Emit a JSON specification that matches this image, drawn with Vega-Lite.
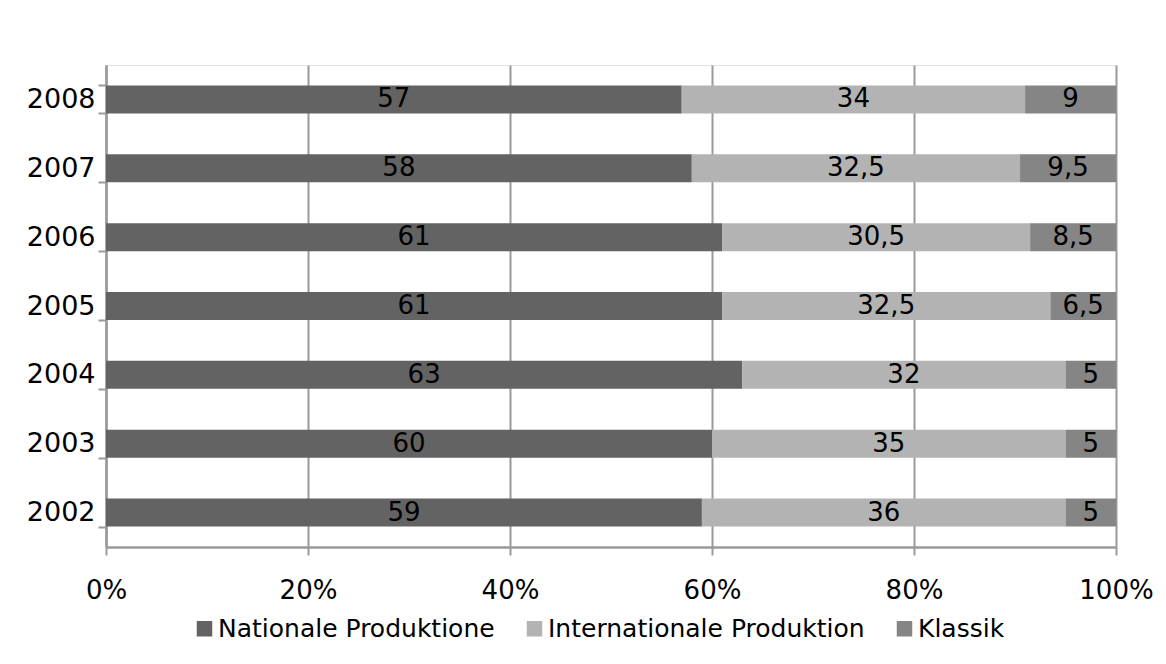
{
  "$schema": "https://vega.github.io/schema/vega-lite/v6.json",
  "width": 1010,
  "height": 482,
  "autosize": {"type": "none"},
  "padding": {"left": 106, "top": 65, "right": 50, "bottom": 117},
  "background": "white",
  "config": {
    "font": "DejaVu Sans",
    "locale": {
      "number": {"decimal": ",", "thousands": ".", "grouping": [3], "currency": ["", " €"]}
    },
    "view": {"stroke": "#e2e2e2", "strokeWidth": 1}
  },
  "data": {
    "values": [
      {"year": "2008", "series": "Nationale Produktionen", "share": 57},
      {"year": "2008", "series": "Internationale Produktionen", "share": 34},
      {"year": "2008", "series": "Klassik", "share": 9},
      {"year": "2007", "series": "Nationale Produktionen", "share": 58},
      {"year": "2007", "series": "Internationale Produktionen", "share": 32.5},
      {"year": "2007", "series": "Klassik", "share": 9.5},
      {"year": "2006", "series": "Nationale Produktionen", "share": 61},
      {"year": "2006", "series": "Internationale Produktionen", "share": 30.5},
      {"year": "2006", "series": "Klassik", "share": 8.5},
      {"year": "2005", "series": "Nationale Produktionen", "share": 61},
      {"year": "2005", "series": "Internationale Produktionen", "share": 32.5},
      {"year": "2005", "series": "Klassik", "share": 6.5},
      {"year": "2004", "series": "Nationale Produktionen", "share": 63},
      {"year": "2004", "series": "Internationale Produktionen", "share": 32},
      {"year": "2004", "series": "Klassik", "share": 5},
      {"year": "2003", "series": "Nationale Produktionen", "share": 60},
      {"year": "2003", "series": "Internationale Produktionen", "share": 35},
      {"year": "2003", "series": "Klassik", "share": 5},
      {"year": "2002", "series": "Nationale Produktionen", "share": 59},
      {"year": "2002", "series": "Internationale Produktionen", "share": 36},
      {"year": "2002", "series": "Klassik", "share": 5}
    ]
  },
  "transform": [
    {"calculate": "indexof(['Nationale Produktionen', 'Internationale Produktionen', 'Klassik'], datum.series)", "as": "rank"},
    {"stack": "share", "groupby": ["year"], "sort": [{"field": "rank", "order": "ascending"}], "offset": "normalize", "as": ["start", "end"]},
    {"calculate": "(datum.start + datum.end) / 2", "as": "mid"}
  ],
  "encoding": {
    "y": {
      "field": "year",
      "type": "ordinal",
      "sort": "descending",
      "scale": {"paddingInner": 0.593, "paddingOuter": 0.2965},
      "axis": {
        "title": null,
        "tickBand": "extent",
        "domainColor": "#9a9a9a",
        "domainWidth": 2.5,
        "tickColor": "#9a9a9a",
        "tickWidth": 2,
        "tickSize": 8,
        "labelFontSize": 27,
        "labelColor": "black",
        "labelPadding": 3
      }
    }
  },
  "layer": [
    {
      "mark": {"type": "bar"},
      "encoding": {
        "x": {
          "field": "start",
          "type": "quantitative",
          "scale": {"domain": [0, 1], "nice": false},
          "axis": {
            "title": null,
            "format": ".0%",
            "values": [0, 0.2, 0.4, 0.6, 0.8, 1],
            "grid": true,
            "gridColor": "#9a9a9a",
            "gridWidth": 2,
            "domainColor": "#9a9a9a",
            "domainWidth": 2.5,
            "tickColor": "#9a9a9a",
            "tickWidth": 2,
            "tickSize": 8,
            "labelFontSize": 26,
            "labelColor": "black",
            "labelPadding": 22,
            "labelFlush": false,
            "labelBound": false
          }
        },
        "x2": {"field": "end"},
        "color": {
          "field": "series",
          "type": "nominal",
          "scale": {
            "domain": ["Nationale Produktionen", "Internationale Produktionen", "Klassik"],
            "range": ["#636363", "#b3b3b3", "#858585"]
          },
          "legend": {
            "title": null,
            "orient": "none",
            "legendX": 86,
            "legendY": 551,
            "direction": "horizontal",
            "padding": 0,
            "symbolType": "square",
            "symbolSize": 240,
            "symbolStrokeWidth": 0,
            "symbolOpacity": 1,
            "labelFontSize": 25,
            "labelColor": "black",
            "labelOffset": 1,
            "labelLimit": 400,
            "columnPadding": 27,
            "encode": {
              "labels": {
                "update": {
                  "limit": {"signal": "datum.value === 'Nationale Produktionen' ? 285 : datum.value === 'Internationale Produktionen' ? 328 : 200"},
                  "ellipsis": {"value": "\u200b"}
                }
              }
            }
          }
        }
      }
    },
    {
      "mark": {"type": "text", "fontSize": 26, "color": "black"},
      "encoding": {
        "x": {"field": "mid", "type": "quantitative"},
        "text": {"field": "share", "type": "quantitative", "format": ".1~f"}
      }
    }
  ]
}
